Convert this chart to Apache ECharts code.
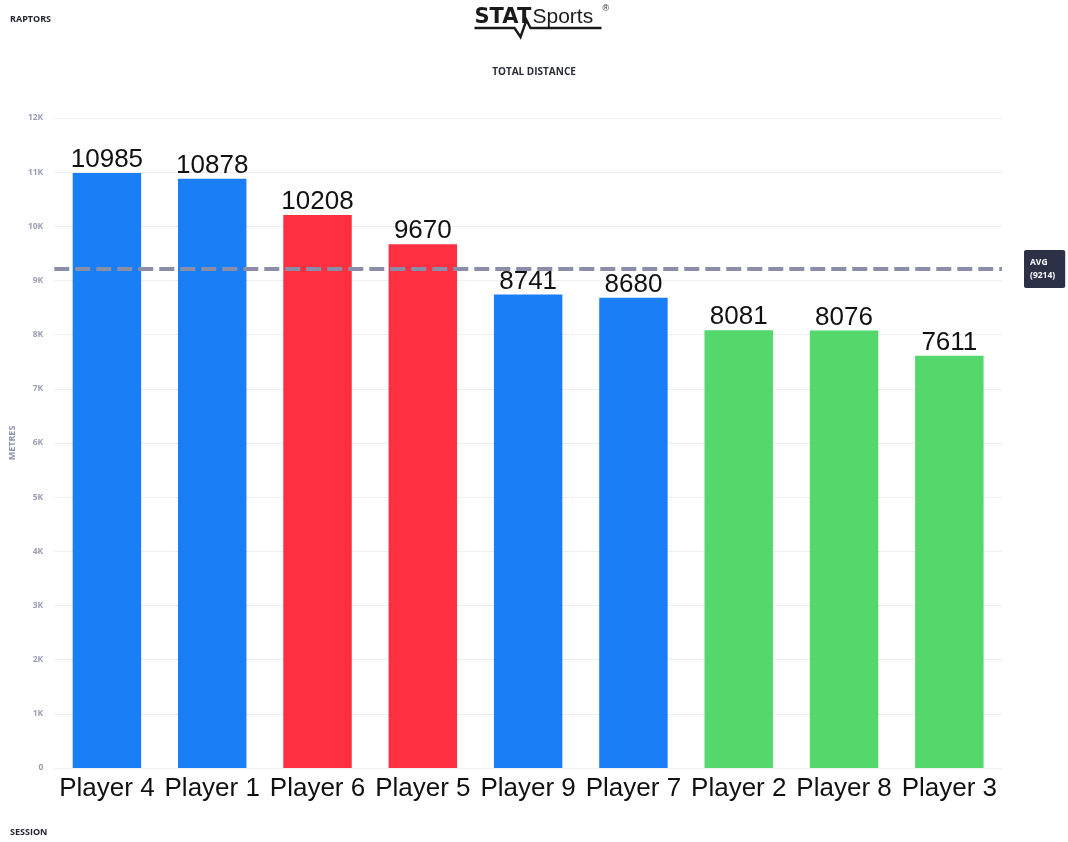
<!DOCTYPE html>
<html>
<head>
<meta charset="utf-8">
<title>Total Distance</title>
<script src="https://cdn.jsdelivr.net/npm/echarts@6/dist/echarts.min.js"></script>
<style>
  html, body { margin: 0; padding: 0; background: #ffffff; }
  #chart { width: 1068px; height: 842px; }
</style>
</head>
<body>
<div id="chart"></div>
<script>
// Session totals per player, in metres
const players = ['Player 4', 'Player 1', 'Player 6', 'Player 5', 'Player 9', 'Player 7', 'Player 2', 'Player 8', 'Player 3'];
const distances = [10985, 10878, 10208, 9670, 8741, 8680, 8081, 8076, 7611];
const groups = ['blue', 'blue', 'red', 'red', 'blue', 'blue', 'green', 'green', 'green'];
const average = 9214;
const yTicks = [0, 1000, 2000, 3000, 4000, 5000, 6000, 7000, 8000, 9000, 10000, 11000, 12000];

const groupColors = { blue: '#1a7ff6', red: '#fd2f41', green: '#54d76b' };

const chart = echarts.init(document.getElementById('chart'));

const option = {
  backgroundColor: '#ffffff',
  animation: false,
  title: {
    text: 'TOTAL DISTANCE',
    left: 'center',
    top: 62,
    textStyle: { fontFamily: 'Open Sans', fontSize: 10, fontWeight: 'bold', color: '#2a2d36' }
  },
  grid: { left: 50, right: 66, top: 118, bottom: 74, containLabel: false },
  xAxis: {
    type: 'category',
    data: players,
    axisLine: { show: false },
    axisTick: { show: false },
    axisLabel: {
      color: '#111111',
      fontFamily: 'Liberation Sans',
      fontSize: 26,
      margin: 8,
      interval: 0
    }
  },
  yAxis: {
    type: 'value',
    min: yTicks[0],
    max: yTicks[yTicks.length - 1],
    interval: 1000,
    name: 'METRES',
    nameLocation: 'middle',
    nameGap: 30,
    nameTextStyle: { fontFamily: 'Open Sans', fontSize: 9, fontWeight: 'bold', color: '#8d93ad' },
    axisLine: { show: false },
    axisTick: { show: false },
    splitLine: { lineStyle: { color: '#edeef2', width: 1 } },
    axisLabel: {
      fontFamily: 'Open Sans',
      fontSize: 8.5,
      fontWeight: 'bold',
      color: '#9a9fb4',
      margin: 11,
      formatter: v => (v === 0 ? '0' : (v / 1000) + 'K')
    }
  },
  series: [{
    type: 'bar',
    barWidth: '65%',
    data: distances.map((v, i) => ({ value: v, itemStyle: { color: groupColors[groups[i]] } })),
    label: {
      show: true,
      position: 'top',
      distance: 0,
      color: '#111111',
      fontFamily: 'Liberation Sans',
      fontSize: 26,
      formatter: p => String(p.value)
    },
    markLine: {
      silent: true,
      symbol: ['none', 'none'],
      lineStyle: { color: '#8a8ea9', type: [15, 6], width: 4 },
      label: {
        show: true,
        position: 'end',
        distance: 22,
        formatter: () => 'AVG\n(' + average + ')',
        align: 'left',
        backgroundColor: '#2c3148',
        color: '#ffffff',
        fontFamily: 'Open Sans',
        fontSize: 8.5,
        fontWeight: 'bold',
        lineHeight: 13,
        padding: [7, 10, 5, 6],
        borderRadius: 2
      },
      data: [{ yAxis: average }]
    }
  }],
  graphic: [
    {
      type: 'text',
      left: 10,
      top: 15,
      style: { text: 'RAPTORS', font: 'bold 9px "Open Sans"', fill: '#22252d' }
    },
    {
      type: 'text',
      left: 10,
      top: 828,
      style: { text: 'SESSION', font: 'bold 9px "Open Sans"', fill: '#22252d' }
    },
    {
      type: 'group',
      left: 472,
      top: 4,
      children: [
        { type: 'text', x: 0, y: 14, style: { text: 'STAT', font: '900 21px "DejaVu Sans"', fill: '#1a1a1a', verticalAlign: 'middle' } },
        { type: 'text', x: 58, y: 13, style: { text: 'Sports', font: '21px "Liberation Sans"', fill: '#1a1a1a', verticalAlign: 'middle' } },
        { type: 'text', x: 128, y: 0, style: { text: '®', font: '9px "Liberation Sans"', fill: '#1a1a1a' } },
        {
          type: 'polyline',
          shape: { points: [[0, 24], [40, 24], [46, 33], [52, 16], [56, 24], [127, 24]] },
          style: { stroke: '#1a1a1a', lineWidth: 2.4, fill: null }
        }
      ]
    }
  ]
};

chart.setOption(option);
</script>
</body>
</html>
